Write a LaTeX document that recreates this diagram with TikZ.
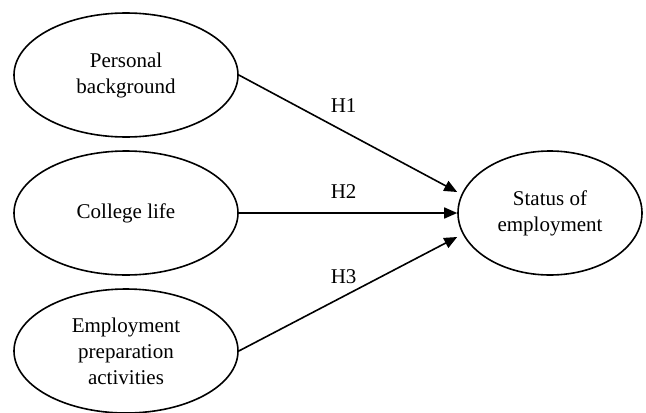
\documentclass[tikz,border=0pt]{standalone}
\usepackage{fontspec}
\setmainfont{Liberation Serif}
\usetikzlibrary{shapes.geometric,arrows.meta}

\begin{document}
\begin{tikzpicture}[node distance=69pt, >={Triangle[length=6.5pt,width=5.5pt]},
    construct/.style={draw, ellipse, line width=0.8pt, minimum width=112pt, minimum height=62pt, inner sep=0pt, align=center, font=\fontsize{10.5}{13}\selectfont},
    hyp/.style={font=\fontsize{10.5}{13}\selectfont, inner sep=1pt}]
        \useasboundingbox (-63pt,37.5pt) rectangle (260pt,-168.5pt);
        \node[construct] (personal) {Personal\\background};
        \node[construct] (college) [below of=personal] {College life};
        \node[construct] (prep) [below of=college] {Employment\\preparation\\activities};
        \node[construct, minimum width=92pt] (status) [right of=college, node distance=212pt] {Status of\\employment};

        \coordinate (in1) at ([yshift=10.5pt]status.west);
        \coordinate (in2) at (status.west);
        \coordinate (in3) at ([yshift=-12pt]status.west);

        \draw[->, line width=0.8pt] (personal.east) -- (in1) node[hyp, pos=0.48, above=8pt] (h1) {H1};
        \draw[->, line width=0.8pt] (college.east) -- (in2) node[hyp, pos=0.48, above=6pt] (h2) {H2};
        \draw[->, line width=0.8pt] (prep.east) -- (in3) node[hyp, pos=0.48, above=5pt] (h3) {H3};
    \end{tikzpicture}
\end{document}
